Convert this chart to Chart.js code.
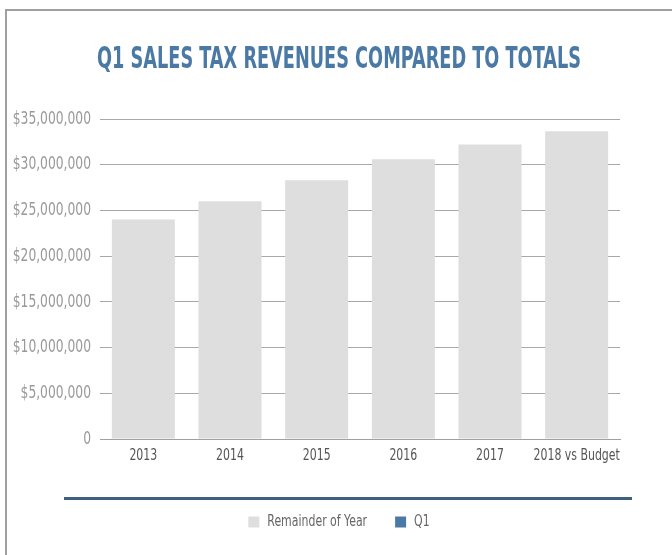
<!DOCTYPE html>
<html>
<head>
<meta charset="utf-8">
<script src="https://cdn.jsdelivr.net/npm/chart.js@4"></script>
<style>
    html, body { margin: 0; padding: 0; background: #fff; }
    #wrap { position: relative; width: 672px; height: 555px; overflow: hidden; }
    /* frame: left and top edges only */
    #frame { position: absolute; left: 5px; top: 9px; width: 700px; height: 600px;
             border-left: 2px solid #a0a0a0; border-top: 2px solid #a0a0a0; }
    #rule { position: absolute; left: 64px; top: 497px; width: 568px; height: 3px; background: #3f5f7f; }
    canvas { position: absolute; left: 0; top: 0; }
</style>
</head>
<body>
<div id="wrap">
    <div id="frame"></div>
    <canvas id="salesTaxChart" width="672" height="555"></canvas>
    <div id="rule"></div>
</div>
<script>
// Years and revenue series
const years = ['2013', '2014', '2015', '2016', '2017', '2018 vs Budget'];
const remainderOfYear = [24000000, 26000000, 28300000, 30600000, 32200000, 33650000];
const q1 = [0, 0, 0, 0, 0, 0];
const yTicks = [0, 5000000, 10000000, 15000000, 20000000, 25000000, 30000000, 35000000];

const font = '"DejaVu Sans Condensed", "Liberation Sans Narrow", sans-serif';

const ctx = document.getElementById('salesTaxChart').getContext('2d');

// Tall, narrow lettering: squeeze every label horizontally around its anchor point
// (the bold heading a little more than the rest)
const squeeze = () => ctx.font.includes('bold') ? 0.656 : 0.76;
const fillText = ctx.fillText.bind(ctx);
const measureText = ctx.measureText.bind(ctx);
ctx.fillText = (text, x, y) => {
    const s = squeeze();
    ctx.save();
    ctx.translate(x, y);
    ctx.scale(s, 1);
    fillText(text, 0, 0);
    ctx.restore();
};
ctx.measureText = text => {
    const m = measureText(text);
    return {
        width: m.width * squeeze(),
        actualBoundingBoxAscent: m.actualBoundingBoxAscent,
        actualBoundingBoxDescent: m.actualBoundingBoxDescent
    };
};

const salesTaxChart = new Chart(ctx, {
    type: 'bar',
    data: {
        labels: years,
        datasets: [
            {
                label: 'Remainder of Year',
                data: remainderOfYear,
                backgroundColor: '#dedede',
                borderWidth: 0,
                stack: 'total'
            },
            {
                label: 'Q1',
                data: q1,
                backgroundColor: '#4a79a5',
                borderWidth: 0,
                stack: 'total'
            }
        ]
    },
    options: {
        responsive: false,
        animation: false,
        layout: { padding: { left: 6, right: 0, top: 42, bottom: 15 } },
        datasets: { bar: { categoryPercentage: 1, barPercentage: 0.727 } },
        plugins: {
            title: {
                display: true,
                text: 'Q1 SALES TAX REVENUES COMPARED TO TOTALS',
                color: '#4a79a5',
                font: { family: font, size: 30, weight: 'bold' },
                padding: { top: 0, bottom: 41 }
            },
            legend: {
                position: 'bottom',
                labels: {
                    color: '#666',
                    font: { family: font, size: 16 },
                    boxWidth: 11,
                    boxHeight: 11,
                    padding: 28
                }
            },
            tooltip: { enabled: false }
        },
        scales: {
            x: {
                stacked: true,
                grid: { display: false, drawTicks: false },
                border: { color: '#a0a0a0' },
                afterFit: axis => { axis.height = 47; },
                ticks: {
                    color: '#555',
                    font: { family: font, size: 16 },
                    padding: 7,
                    autoSkip: false,
                    maxRotation: 0
                }
            },
            y: {
                stacked: true,
                min: 0,
                max: 35000000,
                afterBuildTicks: axis => { axis.ticks = yTicks.map(v => ({ value: v })); },
                afterFit: axis => { axis.width = 94; },
                grid: { color: '#a8a8a8', drawTicks: false },
                border: { display: false },
                ticks: {
                    color: '#999',
                    font: { family: font, size: 18 },
                    padding: 9,
                    callback: v => v === 0 ? '0' : '$' + v.toLocaleString('en-US')
                }
            },
            // empty right-hand margin so title and legend centre on the whole frame
            gutter: {
                type: 'linear',
                position: 'right',
                grid: { display: false, drawTicks: false },
                border: { display: false },
                ticks: { display: false },
                afterFit: axis => { axis.width = 52; }
            }
        }
    }
});
</script>
</body>
</html>
